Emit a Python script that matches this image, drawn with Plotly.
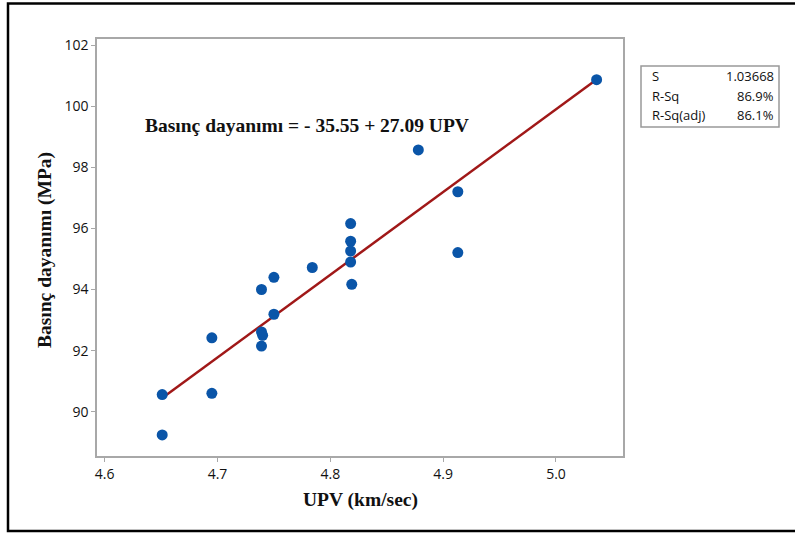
import plotly.graph_objects as go

upv = [4.651, 4.651, 4.695, 4.695, 4.739, 4.739, 4.740, 4.739, 4.750, 4.750,
       4.784, 4.818, 4.818, 4.818, 4.818, 4.819, 4.878, 4.913, 4.913, 5.036]
strength = [90.56, 89.24, 92.42, 90.60, 94.00, 92.61, 92.50, 92.15, 94.40, 93.19,
            94.72, 96.16, 95.58, 95.26, 94.90, 94.17, 98.57, 97.20, 95.21, 100.87]
intercept = -35.55
slope = 27.09
x_ticks = [4.6, 4.7, 4.8, 4.9, 5.0]
y_ticks = [90, 92, 94, 96, 98, 100, 102]
stat_names = ["S", "R-Sq", "R-Sq(adj)"]
stat_values = ["1.03668", "86.9%", "86.1%"]

xl = [min(upv), max(upv)]
yl = [intercept + slope * v for v in xl]

fig = go.Figure()
fig.add_trace(go.Scatter(x=xl, y=yl, mode="lines",
                         line=dict(color="#a01818", width=2.5), hoverinfo="skip"))
fig.add_trace(go.Scatter(x=upv, y=strength, mode="markers",
                         marker=dict(color="#0a55a8", size=11)))

axis_common = dict(showgrid=False, zeroline=False, showline=True, mirror=True,
                   linecolor="#a8a8a8", linewidth=1.5, ticks="outside", ticklen=4,
                   tickcolor="#a8a8a8",
                   tickfont=dict(family="Open Sans", size=14, color="#111"))
fig.update_xaxes(range=[4.5932, 5.0594], tickvals=x_ticks,
                 ticktext=[f"{v:.1f}" for v in x_ticks], **axis_common)
fig.update_yaxes(range=[88.55, 102.2], tickvals=y_ticks, **axis_common)

serif = dict(family="Liberation Serif", size=19.5, color="#111")
ann = []
ann.append(dict(x=4.6337, y=99.38, xref="x", yref="y", xanchor="left", yanchor="middle",
                text="<b>Basınç dayanımı = - 35.55 + 27.09 UPV</b>", showarrow=False,
                font=serif))
ann.append(dict(x=(360 - 97) / 526, y=-(500 - 456) / 417, xref="paper", yref="paper",
                xanchor="center", yanchor="middle", text="<b>UPV (km/sec)</b>", showarrow=False,
                font=serif))
ann.append(dict(x=(45 - 97) / 526, y=(456 - 250) / 417, xref="paper", yref="paper",
                xanchor="center", yanchor="middle", text="<b>Basınç dayanımı (MPa)</b>",
                textangle=-90, showarrow=False, font=serif))

rows_y = [76, 96, 115]
for name, val, py in zip(stat_names, stat_values, rows_y):
    ann.append(dict(x=(650 - 97) / 526, y=(456 - py) / 417, xref="paper", yref="paper",
                    xanchor="left", yanchor="middle", text=name, showarrow=False,
                    font=dict(family="Open Sans", size=13, color="#111")))
    ann.append(dict(x=(776 - 97) / 526, y=(456 - py) / 417, xref="paper", yref="paper",
                    xanchor="right", yanchor="middle", text=val, showarrow=False,
                    font=dict(family="Open Sans", size=13, color="#111")))

shapes = [
    dict(type="rect", xref="paper", yref="paper",
         x0=(641 - 97) / 526, x1=(779 - 97) / 526,
         y0=(456 - 127) / 417, y1=(456 - 66) / 417,
         line=dict(color="#999", width=1.5), fillcolor="rgba(0,0,0,0)"),
    dict(type="rect", xref="paper", yref="paper",
         x0=(8 - 97) / 526, x1=(820 - 97) / 526,
         y0=(456 - 531) / 417, y1=(456 - 3.5) / 417,
         line=dict(color="#000", width=2.5), fillcolor="rgba(0,0,0,0)"),
]

fig.update_layout(width=795, height=535, margin=dict(l=97, r=172, t=39, b=79),
                  paper_bgcolor="white", plot_bgcolor="white", showlegend=False,
                  annotations=ann, shapes=shapes)
fig.write_html("out.html", config={"displayModeBar": False},
               post_script="document.body.style.margin='0';")
